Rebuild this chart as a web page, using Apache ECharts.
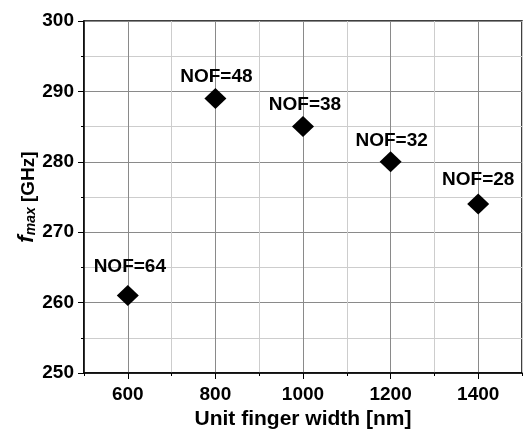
<!DOCTYPE html>
<html>
<head>
<meta charset="utf-8">
<style>
  html, body { margin: 0; padding: 0; background: #fff; }
  #chart { width: 524px; height: 429px; }
</style>
<script src="https://cdn.jsdelivr.net/npm/echarts@6/dist/echarts.min.js"></script>
</head>
<body>
<div id="chart"></div>
<script>
// Unit finger width (nm) and the resulting fmax (GHz) for each layout
const fingerWidth = [600, 800, 1000, 1200, 1400];
const fmax = [261, 289, 285, 280, 274];
const nof = [64, 48, 38, 32, 28];

// Axis tick positions
const xMajorTicks = [600, 800, 1000, 1200, 1400];
const yTicks = [250, 260, 270, 280, 290, 300];

// Small nudges for the NOF annotations, [dx, dy] in px
const labelNudge = [[2, -9], [1, -2], [2, -2], [1, -1], [0, -4]];

const FONT = '"Liberation Sans", Arial, Helvetica, sans-serif';
const MAJOR_GRID = '#8a8a8a';
const MINOR_GRID = '#cdcdcd';

const chart = echarts.init(document.getElementById('chart'));

const points = fingerWidth.map((x, i) => ({
  value: [x, fmax[i]],
  nof: nof[i],
  label: { offset: labelNudge[i] }
}));

chart.setOption({
  animation: false,
  backgroundColor: '#fff',
  grid: {
    left: 84, right: 2, top: 21, bottom: 56,
    containLabel: false, outerBoundsMode: 'none',
    show: true, borderColor: '#000', borderWidth: 1.5,
    backgroundColor: 'transparent'
  },
  xAxis: [
    {
      type: 'value', min: 500, max: 1500, interval: 100,
      name: 'Unit finger width [nm]',
      nameLocation: 'middle', nameGap: 26,
      nameTextStyle: { fontFamily: FONT, fontWeight: 'bold', fontSize: 21, color: '#000' },
      axisLine: { show: true, lineStyle: { color: '#000', width: 1.5 } },
      axisTick: { show: true, inside: false, length: 3, lineStyle: { color: '#000', width: 1 } },
      axisLabel: {
        margin: 12, fontFamily: FONT, fontWeight: 'bold', fontSize: 19, color: '#000',
        formatter: v => (xMajorTicks.indexOf(v) >= 0 ? String(v) : '')
      },
      splitLine: { show: true, lineStyle: { color: [MINOR_GRID, MAJOR_GRID], width: 1 } }
    },
    {
      // longer ticks at the labelled positions
      type: 'value', min: 500, max: 1500, position: 'bottom', gridIndex: 0,
      axisLine: { show: false },
      axisTick: { show: true, inside: false, length: 6, customValues: xMajorTicks, lineStyle: { color: '#000', width: 1 } },
      axisLabel: { show: false },
      splitLine: { show: false }
    }
  ],
  yAxis: {
    type: 'value', min: 250, max: 300, interval: 10,
    name: '{f|f}{sub|max}{t| [GHz]}',
    nameLocation: 'middle', nameRotate: 90, nameGap: 46,
    nameMoveOverlap: false,
    nameTextStyle: {
      color: '#000',
      rich: {
        f: { fontFamily: FONT, fontWeight: 'bold', fontStyle: 'italic', fontSize: 22, color: '#000', verticalAlign: 'bottom', lineHeight: 23 },
        sub: { fontFamily: FONT, fontWeight: 'bold', fontStyle: 'italic', fontSize: 14, color: '#000', verticalAlign: 'bottom', lineHeight: 23, padding: [8, 0, 0, 0] },
        t: { fontFamily: FONT, fontWeight: 'bold', fontSize: 19, color: '#000', verticalAlign: 'bottom', lineHeight: 23 }
      }
    },
    axisLine: { show: true, lineStyle: { color: '#000', width: 1.5 } },
    axisTick: { show: true, inside: false, length: 6, lineStyle: { color: '#000', width: 1 } },
    minorTick: { show: true, splitNumber: 2, length: 3, lineStyle: { color: '#000', width: 1 } },
    axisLabel: {
      margin: 10, fontFamily: FONT, fontWeight: 'bold', fontSize: 19, color: '#000',
      formatter: v => (yTicks.indexOf(v) >= 0 ? String(v) : '')
    },
    splitLine: { show: true, lineStyle: { color: MAJOR_GRID, width: 1 } },
    minorSplitLine: { show: true, lineStyle: { color: MINOR_GRID, width: 1 } }
  },
  series: [{
    type: 'scatter',
    xAxisIndex: 0,
    symbol: 'diamond',
    symbolSize: [22, 21],
    itemStyle: { color: '#000', opacity: 1 },
    data: points,
    label: {
      show: true, position: 'top', distance: 0,
      fontFamily: FONT, fontWeight: 'bold', fontSize: 19, color: '#000',
      formatter: p => 'NOF=' + p.data.nof
    },
    z: 5
  }]
});
</script>
</body>
</html>
